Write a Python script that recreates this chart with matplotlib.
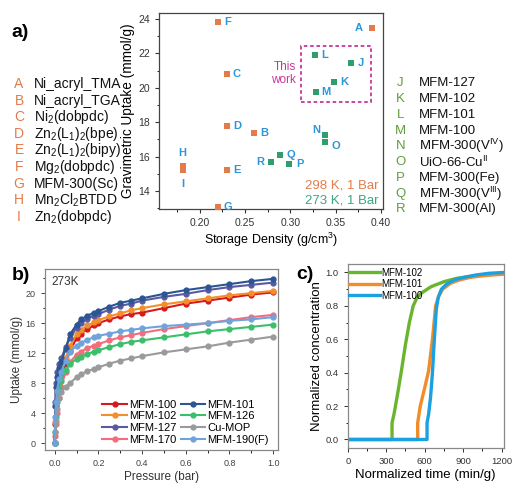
import matplotlib
matplotlib.use("Agg")
import matplotlib.pyplot as plt
from matplotlib.patches import Rectangle
from matplotlib.ticker import MultipleLocator

plt.rcParams['font.family'] = ['Liberation Sans', 'DejaVu Sans']
plt.rcParams['mathtext.fontset'] = 'custom'
plt.rcParams['mathtext.rm'] = 'Liberation Sans'
plt.rcParams['mathtext.it'] = 'Liberation Sans'
plt.rcParams['mathtext.bf'] = 'Liberation Sans:bold'

# ---------------- Panel a data ----------------
a_labels_298 = ['A', 'B', 'C', 'D', 'E', 'F', 'G', 'H', 'I']
a_density_298 = [0.39, 0.26, 0.23, 0.23, 0.23, 0.22, 0.22, 0.181, 0.181]
a_uptake_298 = [23.5, 17.4, 20.8, 17.8, 15.2, 23.85, 13.1, 15.45, 15.2]
a_names_298 = ['Ni_acryl_TMA', 'Ni_acryl_TGA', r'Ni$_2$(dobpdc)', r'Zn$_2$(L$_1$)$_2$(bpe)',
               r'Zn$_2$(L$_1$)$_2$(bipy)', r'Mg$_2$(dobpdc)', 'MFM-300(Sc)',
               r'Mn$_2$Cl$_2$BTDD', r'Zn$_2$(dobpdc)']

a_labels_273 = ['J', 'K', 'L', 'M', 'N', 'O', 'P', 'Q', 'R']
a_density_273 = [0.367, 0.348, 0.327, 0.328, 0.338, 0.338, 0.299, 0.289, 0.279]
a_uptake_273 = [21.46, 20.35, 21.9, 19.74, 17.26, 16.87, 15.55, 16.1, 15.67]
a_names_273 = ['MFM-127', 'MFM-102', 'MFM-101', 'MFM-100', r'MFM-300(V$^{\rm IV}$)',
               r'UiO-66-Cu$^{\rm II}$', 'MFM-300(Fe)', r'MFM-300(V$^{\rm III}$)', 'MFM-300(Al)']

# label offsets (points) for panel a point letters
a_offsets = {'A': (-9.8, 0), 'H': (0, 9.5), 'I': (0, -9.5), 'N': (-6.5, 3.8),
             'O': (7.7, -3.2), 'R': (-7.7, 0)}

# ---------------- Panel b data ----------------
pressure = [0, 0.003, 0.006, 0.01, 0.02, 0.03, 0.05, 0.07, 0.1, 0.12, 0.15, 0.18, 0.2,
            0.25, 0.3, 0.35, 0.4, 0.5, 0.6, 0.7, 0.8, 0.9, 1.0]
uptake_mfm100 = [0, 2.5, 5.0, 6.8, 8.3, 9.3, 10.6, 12.3, 14.0, 14.6, 15.2, 15.7, 16.0,
                 16.5, 16.9, 17.2, 17.4, 18.0, 18.6, 19.0, 19.4, 19.8, 20.1]
uptake_mfm101 = [0, 5.0, 7.5, 8.8, 10.0, 10.8, 12.6, 14.5, 15.8, 16.5, 17.0, 17.4, 17.6,
                 18.2, 18.7, 19.0, 19.3, 19.9, 20.4, 20.8, 21.2, 21.6, 21.9]
uptake_mfm102 = [0, 2.8, 5.5, 7.2, 8.8, 9.8, 11.3, 13.0, 14.5, 15.1, 15.7, 16.1, 16.4,
                 16.9, 17.3, 17.7, 18.0, 18.5, 18.9, 19.3, 19.7, 20.0, 20.3]
uptake_mfm126 = [0, 1.5, 3.5, 5.5, 7.2, 8.3, 9.8, 10.6, 11.2, 11.5, 11.9, 12.2, 12.4,
                 12.8, 13.2, 13.5, 13.7, 14.1, 14.5, 14.9, 15.2, 15.5, 15.8]
uptake_mfm127 = [0, 5.5, 8.0, 9.5, 10.5, 11.3, 12.8, 14.0, 15.4, 16.0, 16.6, 17.0, 17.2,
                 17.8, 18.3, 18.6, 19.0, 19.5, 19.9, 20.4, 20.8, 21.1, 21.4]
uptake_cumop = [0, 1.5, 3.0, 4.5, 6.0, 6.8, 7.5, 8.0, 8.8, 9.2, 9.6, 9.9, 10.1,
                10.6, 11.0, 11.3, 11.6, 12.1, 12.5, 12.9, 13.4, 13.8, 14.2]
uptake_mfm170 = [0, 1.0, 2.5, 4.0, 6.0, 7.5, 9.5, 10.8, 11.8, 12.2, 12.7, 13.0, 13.2,
                 13.7, 14.1, 14.4, 14.7, 15.2, 15.6, 16.0, 16.4, 16.8, 17.1]
uptake_mfm190 = [0, 3.5, 5.5, 7.0, 8.5, 9.5, 11.0, 12.2, 13.0, 13.4, 13.8, 14.1, 14.3,
                 14.6, 14.9, 15.1, 15.3, 15.6, 15.8, 16.0, 16.3, 16.5, 16.8]

# ---------------- Panel c data ----------------
t_mfm102 = [0, 345, 345, 360, 390, 420, 450, 480, 510, 540, 580, 650, 750, 850, 1000, 1215]
c_mfm102 = [0, 0, 0.1, 0.15, 0.28, 0.42, 0.57, 0.70, 0.80, 0.85, 0.88, 0.915, 0.945, 0.965, 0.98, 0.995]
t_mfm101 = [0, 545, 545, 565, 600, 630, 660, 685, 710, 740, 800, 870, 950, 1050, 1215]
c_mfm101 = [0, 0, 0.1, 0.2, 0.31, 0.41, 0.6, 0.8, 0.86, 0.9, 0.935, 0.955, 0.97, 0.98, 0.99]
t_mfm100 = [0, 618, 618, 630, 645, 660, 675, 690, 705, 730, 770, 830, 900, 1000, 1100, 1215]
c_mfm100 = [0, 0, 0.1, 0.15, 0.25, 0.4, 0.6, 0.78, 0.85, 0.9, 0.93, 0.955, 0.97, 0.985, 0.995, 1.0]

ORANGE = '#E27C4A'
GREEN = '#2E9E6F'
LBLUE = '#2D96D8'
OLIVE = '#5E9E3C'
MAGENTA = '#C8379A'

fig = plt.figure(figsize=(5.16, 4.84), dpi=100)

# ================= Panel a =================
ax = fig.add_axes([0.308, 0.568, 0.434, 0.405])
ax.scatter(a_density_298, a_uptake_298, marker='s', s=20, color=ORANGE, zorder=3, linewidths=0)
ax.scatter(a_density_273, a_uptake_273, marker='s', s=20, color=GREEN, zorder=3, linewidths=0)
for lab, x, y in list(zip(a_labels_298, a_density_298, a_uptake_298)) + \
        list(zip(a_labels_273, a_density_273, a_uptake_273)):
    dx, dy = a_offsets.get(lab, (7.2, 0))
    ax.annotate(lab, (x, y), xytext=(dx, dy), textcoords='offset points',
                ha='center', va='center', color=LBLUE, fontsize=8, fontweight='bold')
ax.add_patch(Rectangle((0.312, 19.19), 0.077, 3.26, fill=False, ec=MAGENTA,
                       ls=(0, (2, 1.5)), lw=1.3, zorder=2))
ax.text(0.306, 20.85, 'This\nwork', color=MAGENTA, ha='right', va='center',
        fontsize=8.5, linespacing=1.1)
ax.text(0.397, 14.35, '298 K, 1 Bar', color=ORANGE, ha='right', va='center', fontsize=9.5)
ax.text(0.397, 13.45, '273 K, 1 Bar', color='#3DA67C', ha='right', va='center', fontsize=9.5)
ax.set_xlim(0.155, 0.402)
ax.set_ylim(12.95, 24.35)
ax.xaxis.set_minor_locator(MultipleLocator(0.025))
ax.yaxis.set_major_locator(MultipleLocator(2))
ax.yaxis.set_minor_locator(MultipleLocator(1))
ax.set_xticks([0.20, 0.25, 0.30, 0.35, 0.40])
ax.set_xticklabels(['0.20', '0.25', '0.30', '0.35', '0.40'])
ax.tick_params(labelsize=7.5, length=3, width=0.8, colors='#333333')
ax.tick_params(which='minor', length=1.8, width=0.6)
for s in ax.spines.values():
    s.set_color('#444444')
    s.set_linewidth(0.9)
ax.set_xlabel(r'Storage Density (g/cm$^3$)', fontsize=9, labelpad=2)
ax.set_ylabel('Gravimetric Uptake (mmol/g)', fontsize=9.8, labelpad=2)

fig.text(0.022, 0.932, 'a)', fontsize=14, fontweight='bold', va='center')

row0 = 84
for i, (lab, name) in enumerate(zip(a_labels_298, a_names_298)):
    yy = 1 - (row0 + i * 16.6) / 484
    fig.text(0.037, yy, lab, color=ORANGE, fontsize=10, ha='center', va='center')
    fig.text(0.066, yy, name, color='#111111', fontsize=10, ha='left', va='center')
row0 = 83.3
for i, (lab, name) in enumerate(zip(a_labels_273, a_names_273)):
    yy = 1 - (row0 + i * 15.75) / 484
    fig.text(0.776, yy, lab, color=OLIVE, fontsize=9.5, ha='center', va='center')
    fig.text(0.812, yy, name, color='#111111', fontsize=9.5, ha='left', va='center')

# ================= Panel b =================
bx = fig.add_axes([0.087, 0.070, 0.452, 0.374])
series_b = [
    ('MFM-100', uptake_mfm100, '#D7191C'),
    ('MFM-102', uptake_mfm102, '#F28E2B'),
    ('MFM-127', uptake_mfm127, '#5A5AA0'),
    ('MFM-170', uptake_mfm170, '#F26D7D'),
    ('MFM-101', uptake_mfm101, '#2C5594'),
    ('MFM-126', uptake_mfm126, '#3CBF6A'),
    ('Cu-MOP', uptake_cumop, '#9A9A9A'),
    ('MFM-190(F)', uptake_mfm190, '#6FA3DA'),
]
handles = []
for name, vals, col in series_b:
    h, = bx.plot(pressure, vals, '-o', color=col, lw=1.5, ms=3.5, label=name)
    handles.append(h)
bx.legend(handles=handles, ncol=2, loc='lower right', fontsize=8, frameon=False,
          handlelength=2.2, handletextpad=0.2, columnspacing=0.4, labelspacing=0.15,
          borderaxespad=0.1, bbox_to_anchor=(0.985, 0.0))
bx.text(0.03, 0.96, '273K', transform=bx.transAxes, ha='left', va='top', fontsize=8.5,
        color='#333333')
bx.set_xlim(-0.045, 1.023)
bx.set_ylim(-0.93, 23.2)
bx.xaxis.set_minor_locator(MultipleLocator(0.1))
bx.yaxis.set_major_locator(MultipleLocator(4))
bx.yaxis.set_minor_locator(MultipleLocator(2))
bx.set_xticks([0, 0.2, 0.4, 0.6, 0.8, 1.0])
bx.set_xticklabels(['0.0', '0.2', '0.4', '0.6', '0.8', '1.0'])
bx.tick_params(labelsize=6.5, length=3, width=0.7, colors='#444444')
bx.tick_params(which='minor', length=1.8, width=0.6)
for s in bx.spines.values():
    s.set_color('#888888')
    s.set_linewidth(0.9)
bx.set_xlabel('Pressure (bar)', fontsize=8.5, color='#333333', labelpad=2)
bx.set_ylabel('Uptake (mmol/g)', fontsize=8.5, color='#333333', labelpad=2)
fig.text(0.022, 0.43, 'b)', fontsize=14, fontweight='bold', va='center')

# ================= Panel c =================
cx = fig.add_axes([0.674, 0.074, 0.302, 0.381])
cx.plot(t_mfm102, c_mfm102, color='#6AB52E', lw=2.4, label='MFM-102')
cx.plot(t_mfm101, c_mfm101, color='#F28C28', lw=2.4, label='MFM-101')
cx.plot(t_mfm100, c_mfm100, color='#1BA1E2', lw=2.4, label='MFM-100')
cx.legend(loc='upper left', fontsize=7, frameon=False, handlelength=3.2,
          handletextpad=0.2, labelspacing=0.15, borderaxespad=0.0,
          bbox_to_anchor=(-0.02, 1.0))
cx.set_xlim(0, 1215)
cx.set_ylim(-0.052, 1.052)
cx.xaxis.set_minor_locator(MultipleLocator(150))
cx.yaxis.set_minor_locator(MultipleLocator(0.1))
cx.set_xticks([0, 300, 600, 900, 1200])
cx.set_yticks([0, 0.2, 0.4, 0.6, 0.8, 1.0])
cx.set_yticklabels(['0.0', '0.2', '0.4', '0.6', '0.8', '1.0'])
cx.tick_params(labelsize=6.8, length=3, width=0.7, colors='#333333')
cx.tick_params(which='minor', length=1.8, width=0.6)
for s in cx.spines.values():
    s.set_color('#888888')
    s.set_linewidth(0.9)
cx.set_xlabel('Normalized time (min/g)', fontsize=9.5, labelpad=2)
cx.set_ylabel('Normalized concentration', fontsize=9.5, labelpad=2)
fig.text(0.574, 0.432, 'c)', fontsize=14, fontweight='bold', va='center')

fig.savefig('out.png', dpi=100)
